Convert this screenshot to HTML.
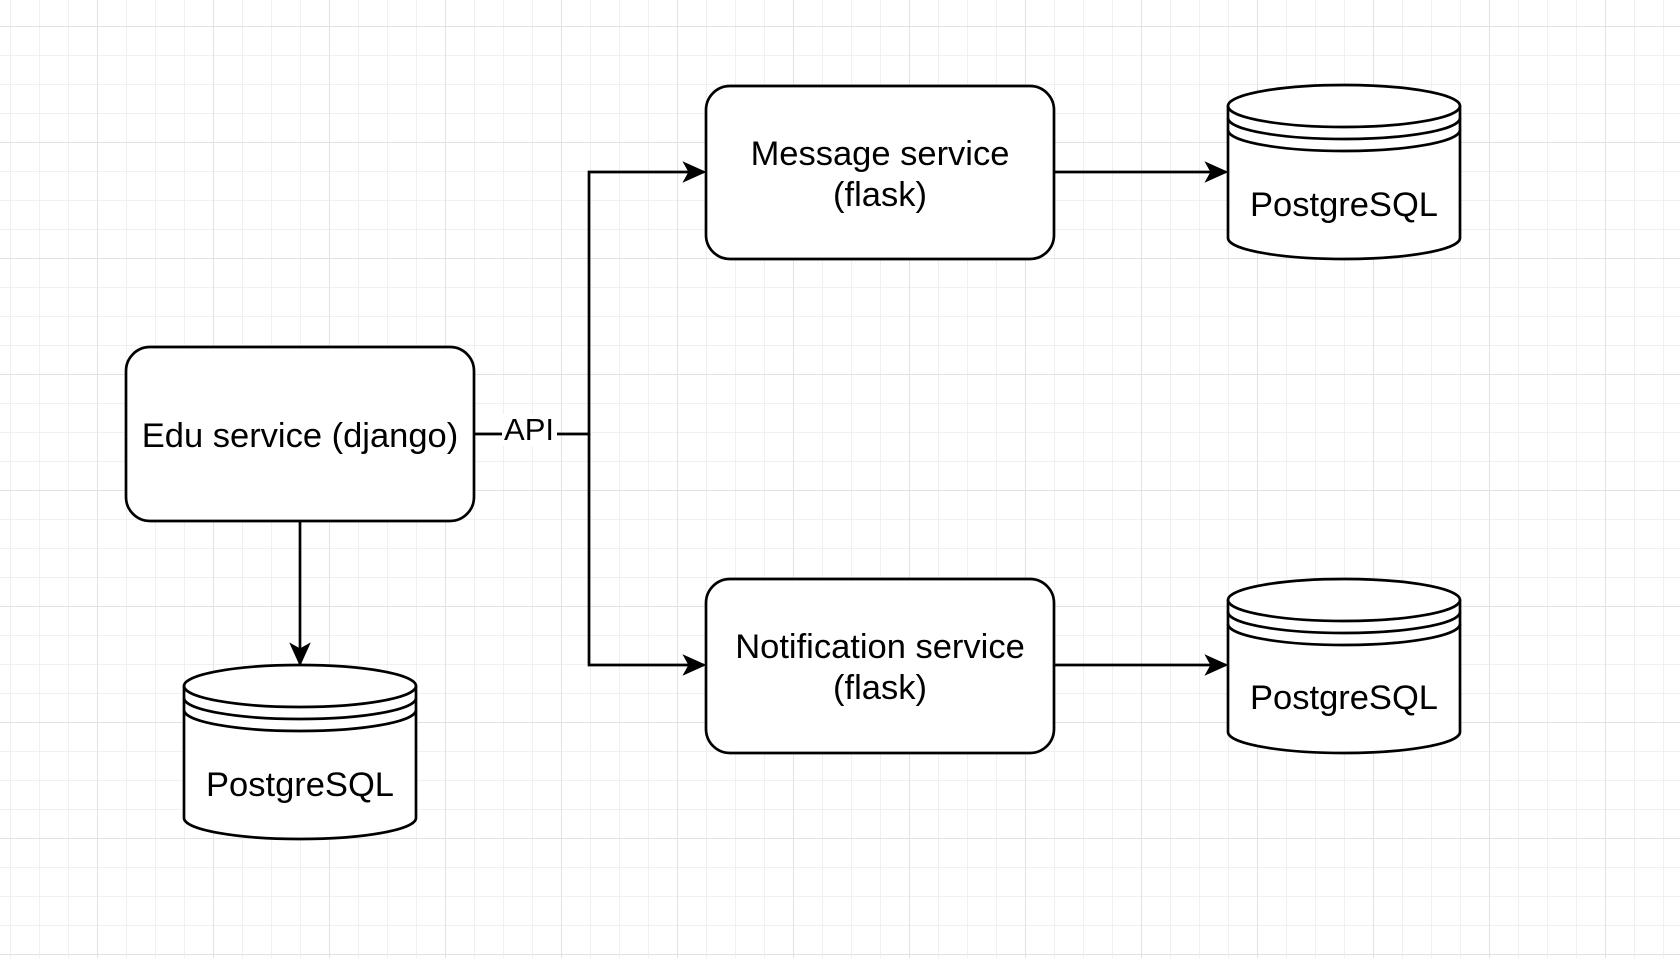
<!DOCTYPE html>
<html><head><meta charset="utf-8"><style>
html,body{margin:0;padding:0;background:#fff}
svg{display:block}
text{font-family:"Liberation Sans",Arial,sans-serif;fill:#000}
</style></head><body>
<svg width="1680" height="958" viewBox="0 0 1680 958" xmlns="http://www.w3.org/2000/svg">
<defs>
<pattern id="minor" x="10" y="-3" width="29" height="29" patternUnits="userSpaceOnUse">
<path d="M0 0V29M0 0H29" stroke="#f0f0f0" stroke-width="2" fill="none"/>
</pattern>
<pattern id="major" x="97" y="26" width="116" height="116" patternUnits="userSpaceOnUse">
<path d="M0 0V116M0 0H116" stroke="#e2e2e2" stroke-width="2" fill="none"/>
</pattern>
<marker id="ar" viewBox="0 0 20 20" refX="18" refY="10" markerWidth="24" markerHeight="24" markerUnits="userSpaceOnUse" orient="auto">
<path d="M0 1 L20 10 L0 19 L5 10 Z" fill="#000"/>
</marker>
</defs>
<rect width="1680" height="958" fill="#fff"/>
<rect width="1680" height="958" fill="url(#minor)"/>
<rect width="1680" height="958" fill="url(#major)"/>

<g stroke="#000" stroke-width="2.7" fill="none">
<path d="M474 434 H589 V172 H704" marker-end="url(#ar)"/>
<path d="M589 434 V665 H704" marker-end="url(#ar)"/>
<path d="M1054 172 H1226" marker-end="url(#ar)"/>
<path d="M1054 665 H1226" marker-end="url(#ar)"/>
<path d="M300 521 V664" marker-end="url(#ar)"/>
</g>

<g stroke="#000" stroke-width="2.7" fill="#fff">
<rect x="126" y="347" width="348" height="174" rx="24"/>
<rect x="706" y="86" width="348" height="173" rx="24"/>
<rect x="706" y="579" width="348" height="174" rx="24"/>
</g>

<g stroke="#000" stroke-width="2.7" fill="#fff">
<g transform="translate(1228,85)">
<path d="M0 21 A116 21 0 0 1 232 21 V153 A116 21 0 0 1 0 153 Z"/>
<path d="M0 21 A116 21 0 0 0 232 21 M0 33 A116 21 0 0 0 232 33 M0 45 A116 21 0 0 0 232 45" fill="none"/>
</g>
<g transform="translate(1228,579)">
<path d="M0 21 A116 21 0 0 1 232 21 V153 A116 21 0 0 1 0 153 Z"/>
<path d="M0 21 A116 21 0 0 0 232 21 M0 33 A116 21 0 0 0 232 33 M0 45 A116 21 0 0 0 232 45" fill="none"/>
</g>
<g transform="translate(184,665)">
<path d="M0 21 A116 21 0 0 1 232 21 V153 A116 21 0 0 1 0 153 Z"/>
<path d="M0 21 A116 21 0 0 0 232 21 M0 33 A116 21 0 0 0 232 33 M0 45 A116 21 0 0 0 232 45" fill="none"/>
</g>
</g>

<rect x="502" y="414" width="55" height="32" fill="#fff"/>
<g font-size="34.5" text-anchor="middle">
<text x="300" y="447">Edu service (django)</text>
<text x="880" y="165">Message service</text>
<text x="880" y="206">(flask)</text>
<text x="880" y="658">Notification service</text>
<text x="880" y="699">(flask)</text>
<text x="1344" y="216">PostgreSQL</text>
<text x="1344" y="709">PostgreSQL</text>
<text x="300" y="796">PostgreSQL</text>
<text x="529" y="440" font-size="31">API</text>
</g>
</svg>
</body></html>
